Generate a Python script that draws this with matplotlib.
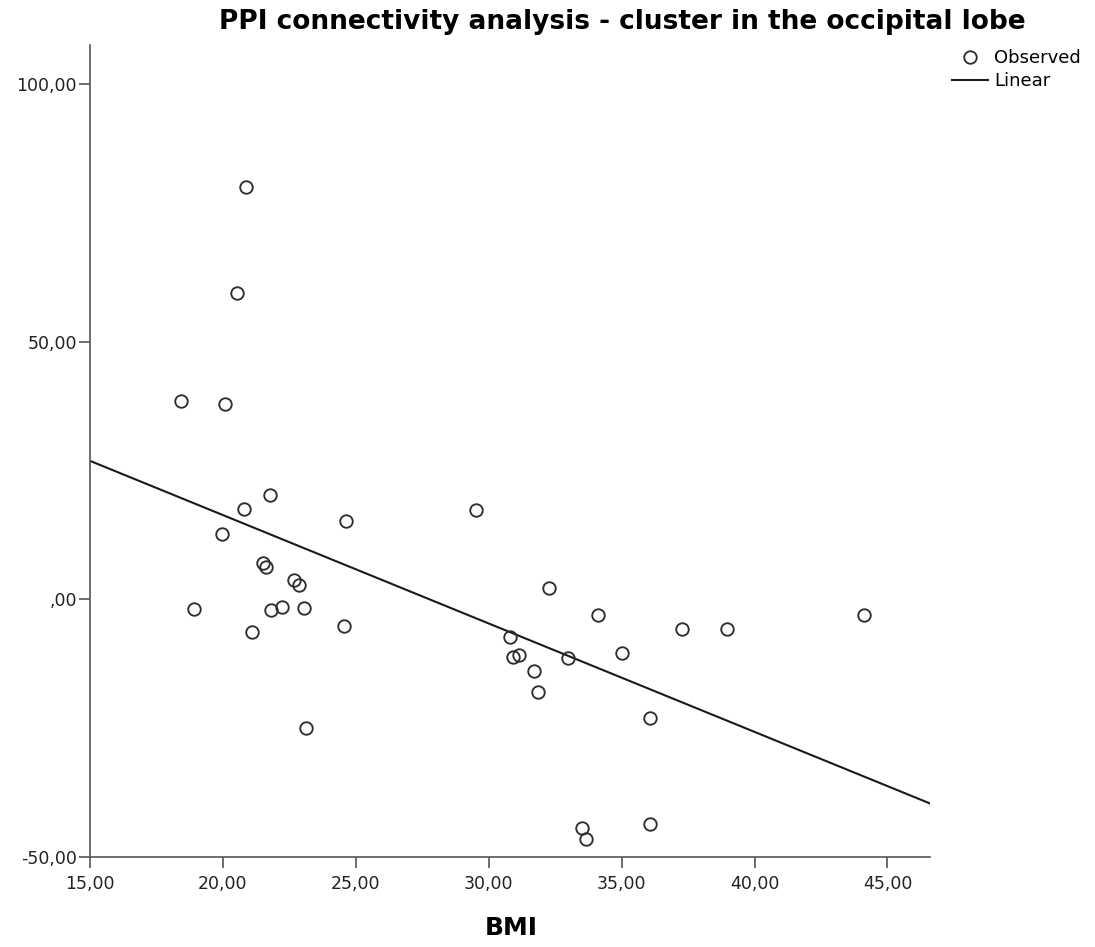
import numpy as np
import matplotlib
matplotlib.use("Agg")
from matplotlib import pyplot as plt
from matplotlib.ticker import FuncFormatter
from matplotlib.lines import Line2D

plt.rcParams['font.family'] = ['DejaVu Sans']

# BMI vs PPI connectivity values
bmi = [18.44, 20.07, 21.76, 20.81, 24.63, 19.98, 21.51, 21.62, 22.66, 22.85,
       18.90, 21.81, 22.24, 23.06, 21.08, 24.57, 23.13, 20.88, 20.53, 29.52,
       32.25, 34.11, 30.81, 30.93, 31.12, 31.71, 31.85, 33.00, 35.03, 37.26,
       38.95, 44.12, 36.05, 33.50, 33.67, 36.06]
ppi = [38.54, 37.90, 20.29, 17.51, 15.12, 12.66, 6.97, 6.31, 3.73, 2.81,
       -1.96, -2.10, -1.51, -1.71, -6.31, -5.20, -25.06, 79.97, 59.50, 17.32,
       2.12, -3.07, -7.28, -11.16, -10.83, -13.94, -17.96, -11.47, -10.44, -5.73,
       -5.85, -3.13, -23.00, -44.36, -46.50, -43.58]

x_ticks = [15, 20, 25, 30, 35, 40, 45]
y_ticks = [-50, 0, 50, 100]
x_lim = (15, 46.6)
y_lim = (-50, 107.6)

# linear fit
slope, intercept = np.polyfit(bmi, ppi, 1)
xf = np.array(x_lim)
yf = intercept + slope * xf


def spss_fmt(v, pos):
    s = f"{v:.2f}".replace('.', ',')
    if s.startswith('0,'):
        s = s[1:]
    return s


fig = plt.figure(figsize=(10.95, 9.47), dpi=100)
ax = fig.add_axes([90 / 1095, 1 - 856.7 / 947, (930 - 90) / 1095, (856.7 - 45) / 947])

ax.plot(xf, yf, color='#1a1a1a', lw=1.5, zorder=2)
ax.plot(bmi, ppi, 'o', ms=9, mfc='none', mec='#2e2e2e', mew=1.35, zorder=3)

ax.set_xlim(*x_lim)
ax.set_ylim(*y_lim)
ax.set_xticks(x_ticks)
ax.set_yticks(y_ticks)
ax.xaxis.set_major_formatter(FuncFormatter(spss_fmt))
ax.yaxis.set_major_formatter(FuncFormatter(spss_fmt))

for s in ['top', 'right']:
    ax.spines[s].set_visible(False)
for s in ['left', 'bottom']:
    ax.spines[s].set_color('#555555')
    ax.spines[s].set_linewidth(1.2)
ax.tick_params(direction='out', length=8, width=1.2, color='#555555',
               labelsize=12.5, labelcolor='#222222')
ax.tick_params(axis='y', pad=1.5)
ax.tick_params(axis='x', pad=5)

fig.text(622 / 1095, 1 - 22 / 947, 'PPI connectivity analysis - cluster in the occipital lobe',
         ha='center', va='center', fontsize=19, fontweight='bold', color='black')
fig.text(511 / 1095, 1 - 928 / 947, 'BMI', ha='center', va='center',
         fontsize=18, fontweight='bold', color='black')

handles = [
    Line2D([], [], ls='none', marker='o', ms=9, mfc='none', mec='#2e2e2e', mew=1.35),
    Line2D([], [], color='#1a1a1a', lw=1.5),
]
fig.legend(handles, ['Observed', 'Linear'], loc='upper left',
           bbox_to_anchor=(952 / 1095, 1 - 49 / 947), frameon=False,
           fontsize=13, handlelength=2.0, handletextpad=0.35, labelspacing=0.3,
           borderaxespad=0, borderpad=0)

fig.savefig('out.png', dpi=100)
